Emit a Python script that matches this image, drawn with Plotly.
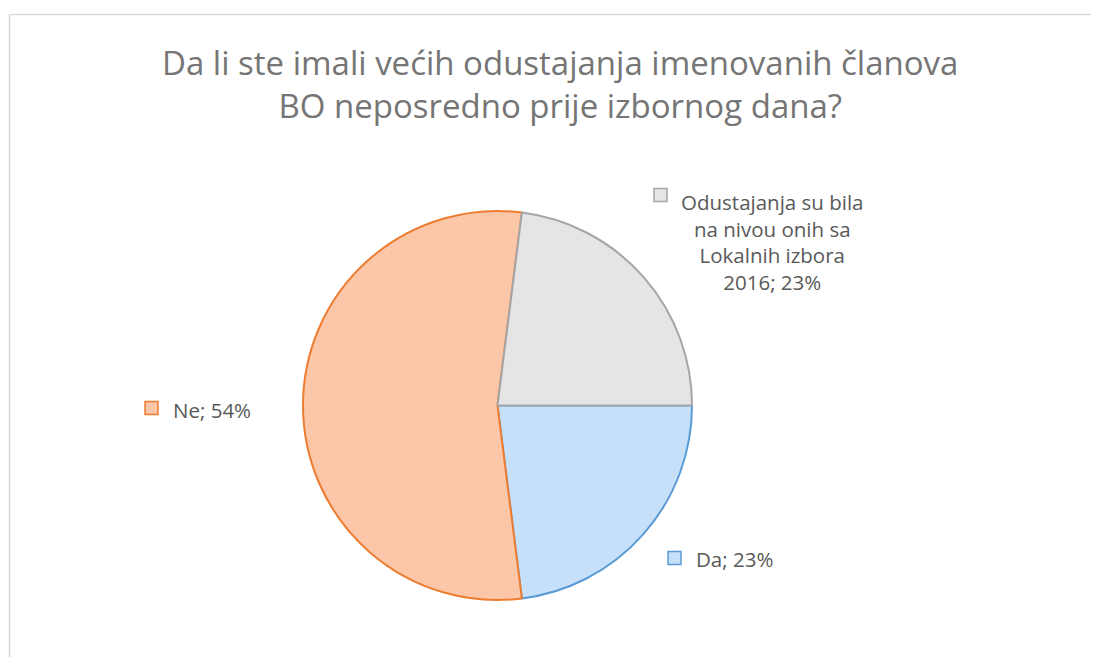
import plotly.graph_objects as go

W, H = 1099, 657
POMAK = 8  # zadana margina <body> u HTML stranici
WF, HF = W - POMAK, H - POMAK

# Podaci
kategorije = ["Da", "Ne", "Odustajanja su bila<br>na nivou onih sa<br>Lokalnih izbora<br>2016"]
vrijednosti = [23, 54, 23]
boje_ispune = ["#C6E0FA", "#FCC6A9", "#E5E5E5"]
boje_linije = ["#5B9BD5", "#ED7D31", "#A5A5A5"]

naslov = "Da li ste imali većih odustajanja imenovanih članova<br>BO neposredno prije izbornog dana?"


def px_x(x):
    return (x - POMAK) / WF


def px_y(y):
    return 1 - (y - POMAK) / HF


fig = go.Figure()

fig.add_trace(
    go.Pie(
        labels=kategorije,
        values=vrijednosti,
        sort=False,
        direction="clockwise",
        rotation=90,
        textinfo="none",
        hoverinfo="label+percent",
        marker=dict(colors=boje_ispune, line=dict(color=boje_linije, width=2)),
        domain=dict(x=[px_x(303), px_x(692)], y=[px_y(600), px_y(211)]),
        showlegend=False,
    )
)

# Oznake podataka s kvadratićima legende (pozicije u pikselima)
pozicije = [
    # (x kvadratića, y kvadratića, x teksta, y teksta, poravnanje)
    (668, 558, 694, 559, "left"),
    (145, 408, 171, 410, "left"),
    (654, 195, 772, 242, "center"),
]

ukupno = sum(vrijednosti)
annotations = []
shapes = []
for kat, val, fill, line, (sx, sy, tx, ty, align) in zip(
    kategorije, vrijednosti, boje_ispune, boje_linije, pozicije
):
    tekst = f"{kat}; {round(100 * val / ukupno)}%"
    annotations.append(
        dict(
            x=px_x(tx), y=px_y(ty), xref="paper", yref="paper",
            text=tekst, showarrow=False, align=align,
            xanchor=align, yanchor="middle",
            font=dict(family="Open Sans", size=20.5, color="#595959"),
        )
    )
    shapes.append(
        dict(
            type="rect", xref="paper", yref="paper",
            x0=px_x(sx), x1=px_x(sx + 13), y0=px_y(sy - 6.5), y1=px_y(sy + 6.5),
            fillcolor=fill, line=dict(color=line, width=1.5),
        )
    )

# Naslov
annotations.append(
    dict(
        x=px_x(560), y=px_y(84), xref="paper", yref="paper",
        text=naslov, showarrow=False, align="center",
        xanchor="center", yanchor="middle",
        font=dict(family="Open Sans", size=33, color="#757575"),
    )
)

# Okvir grafikona (gore i lijevo)
shapes.append(dict(type="line", xref="paper", yref="paper",
                   x0=px_x(9.5), x1=1, y0=px_y(14.5), y1=px_y(14.5),
                   line=dict(color="#D9D9D9", width=1.5)))
shapes.append(dict(type="line", xref="paper", yref="paper",
                   x0=px_x(9.5), x1=px_x(9.5), y0=px_y(14.5), y1=0,
                   line=dict(color="#D9D9D9", width=1.5)))

fig.update_layout(
    width=WF,
    height=HF,
    margin=dict(l=0, r=0, t=0, b=0),
    paper_bgcolor="white",
    plot_bgcolor="white",
    annotations=annotations,
    shapes=shapes,
)

fig.write_html("out.html")
